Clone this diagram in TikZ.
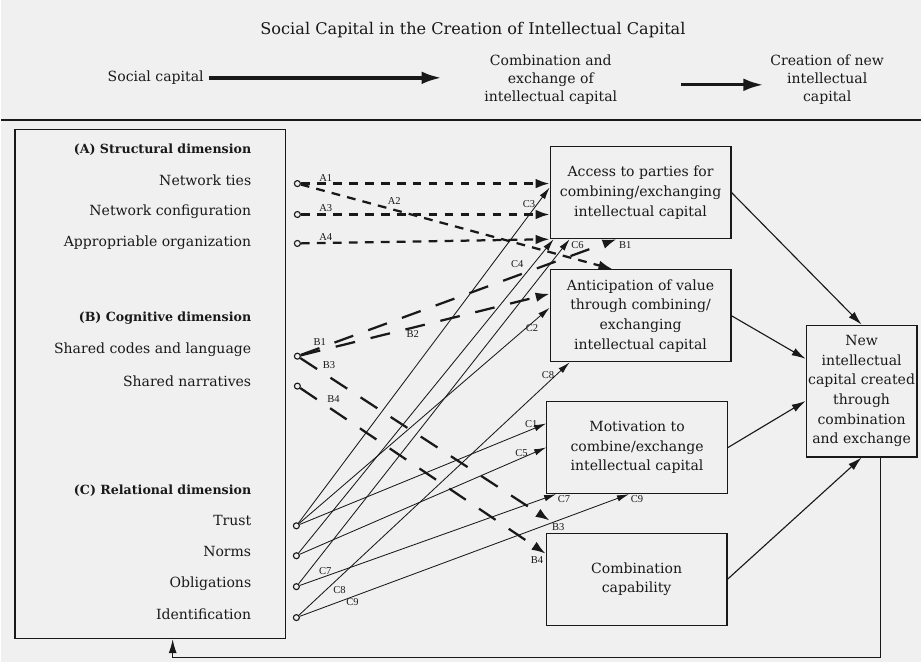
\documentclass[tikz,border=0pt]{standalone}
\usepackage{fontspec}
\setmainfont{DejaVu Serif}
\newfontfamily\tagfont{Liberation Serif}
\usetikzlibrary{arrows.meta}

\begin{document}
\begin{tikzpicture}[x=0.025cm,y=-0.025cm,color=black!90,
        every node/.style={font=\fontsize{10}{14}\selectfont},
        box/.style={draw,line width=0.8pt,align=center,inner sep=1pt,minimum width=4.53cm,minimum height=2.31cm},
        dim/.style={anchor=east,inner sep=0pt},
        head/.style={dim,font=\fontsize{9}{14}\selectfont\bfseries},
        src/.style={circle,draw,line width=0.8pt,inner sep=0pt,minimum size=0.15cm},
        tag/.style={font=\tagfont\fontsize{7.5}{8}\selectfont,inner sep=1pt},
        bigarrow/.style={-{Latex[length=5mm,width=3.2mm]},line width=2.4pt},
        aline/.style={-{Latex[length=3.5mm,width=2.4mm]},line width=1.6pt,dash pattern=on 0.22cm off 0.18cm},
        bline/.style={-{Latex[length=3.5mm,width=2.4mm]},line width=1.6pt,dash pattern=on 0.5cm off 0.4cm},
        sline/.style={-{Latex[length=3mm,width=1.6mm]},line width=0.6pt},
        link/.style={-{Latex[length=3.5mm,width=2mm]},line width=0.8pt}]
        \fill[black!6] (0,0) rectangle (922,664);
        \node [font=\fontsize{11.5}{14}\selectfont] (title) at (473,30) {Social Capital in the Creation of Intellectual Capital};
        \node [anchor=east] (social) at (208,78) {Social capital};
        \node [align=center,font=\fontsize{10}{13}\selectfont] (combex) at (551,80) {Combination and\\exchange of\\intellectual capital};
        \node [align=center,font=\fontsize{10}{13}\selectfont] (creation) at (828,80) {Creation of new\\intellectual\\capital};
        \draw[bigarrow,shorten >=0.95cm] (social.east) -- (combex.west |- social.east);
        \draw[bigarrow,shorten <=1.475cm,shorten >=0.05cm] ([yshift=-0.125cm]combex.east) -- ([yshift=-0.125cm]creation.west);
        \draw[line width=1.5pt] (0,120) -- (922,120);
        \node [draw,line width=0.8pt,minimum width=6.775cm,minimum height=12.75cm] (dimbox) at (149.5,385) {};
        \node [head] (headA) at (251,150) {(A) Structural dimension};
        \node [dim] (ties) at (251,181) {Network ties};
        \node [dim] (config) at (251,212) {Network configuration};
        \node [dim] (approp) at (251,243) {Appropriable organization};
        \node [head] (headB) at (251,319) {(B) Cognitive dimension};
        \node [dim] (codes) at (251,351) {Shared codes and language};
        \node [dim] (narr) at (251,382) {Shared narratives};
        \node [head] (headC) at (251,492) {(C) Relational dimension};
        \node [dim] (trust) at (251,522) {Trust};
        \node [dim] (norms) at (251,553) {Norms};
        \node [dim] (oblig) at (251,585) {Obligations};
        \node [dim] (ident) at (251,616) {Identification};
        \node [src] (o-ties) at (297,184) {};
        \node [src] (o-config) at (297,215) {};
        \node [src] (o-approp) at (297,244) {};
        \node [src] (o-codes) at (297,357) {};
        \node [src] (o-narr) at (297,387) {};
        \node [src] (o-trust) at (296,527) {};
        \node [src] (o-norms) at (296,557) {};
        \node [src] (o-oblig) at (296,588) {};
        \node [src] (o-ident) at (296,619) {};
        \node [box] (access) at (641,193) {Access to parties for\\combining/exchanging\\intellectual capital};
        \node [box] (antic) at (641,316.5) {Anticipation of value\\through combining/\\exchanging\\intellectual capital};
        \node [box] (motiv) at (637.5,448.5) {Motivation to\\combine/exchange\\intellectual capital};
        \node [box] (combo) at (637,580.5) {Combination\\capability};
        \node [draw,line width=0.8pt,align=center,inner sep=1pt,minimum width=2.775cm,minimum height=3.3cm] (newic) at (862.5,392) {New\\intellectual\\capital created\\through\\combination\\and exchange};
        \draw[aline] (o-ties) -- node[tag,pos=.1,above]{A1} (access.west |- o-ties);
        \draw[aline] (o-ties) -- node[tag,pos=.3,above=2pt]{A2} ([xshift=1.575cm]antic.north west);
        \draw[aline] (o-config) -- node[tag,pos=.1,above]{A3} (access.west |- o-config);
        \draw[aline] (o-approp) -- node[tag,pos=.1,above]{A4} (access.south west);
        \draw[bline] (o-codes) -- node[tag,pos=.06,above]{B1} node[tag,pos=1,below right]{B1} ([xshift=1.675cm]access.south west);
        \draw[bline] (o-codes) -- node[tag,pos=.45,below]{B2} ([yshift=0.55cm]antic.west);
        \draw[bline] (o-codes) -- node[tag,pos=.08,above right]{B3} node[tag,pos=1,below right]{B3} ([xshift=0.1cm,yshift=0.3cm]combo.north west);
        \draw[bline] (o-narr) -- node[tag,pos=.1,above right]{B4} node[tag,pos=1,below left]{B4} ([yshift=0.64cm]combo.west);
        \draw[sline] (o-trust) -- node[tag,pos=.95,left]{C3} ([yshift=0.125cm]access.west);
        \draw[sline] (o-trust) -- node[tag,pos=.93,below]{C2} ([yshift=0.2cm]antic.west);
        \draw[sline] (o-trust) -- node[tag,pos=.94,above]{C1} ([yshift=0.6cm]motiv.west);
        \draw[sline] (o-norms) -- node[tag,pos=.92,left=2mm]{C4} ([xshift=0.1cm]access.south west);
        \draw[sline] (o-norms) -- node[tag,pos=.9,above]{C5} (motiv.west);
        \draw[sline] (o-oblig) -- node[tag,pos=1,below right]{C6} ([xshift=0.5cm]access.south west);
        \draw[sline] (o-oblig) -- node[tag,pos=.1,above]{C7} node[tag,pos=1,below right]{C7} ([xshift=0.25cm]motiv.south west);
        \draw[sline] (o-ident) -- node[tag,pos=.12,below right]{C8} node[tag,pos=.95,left]{C8} ([xshift=0.5cm]antic.south west);
        \draw[sline] (o-ident) -- node[tag,pos=.16,below]{C9} node[tag,pos=1,below right]{C9} ([xshift=2.075cm]motiv.south west);
        \draw[link] (access.east) -- (newic.north);
        \draw[link] (antic.east) -- (newic.150);
        \draw[link] (motiv.east) -- (newic.190);
        \draw[link] (combo.east) -- (newic.south);
        \draw[link] (newic.286) -- ++(0,200) -| ([xshift=0.5625cm]dimbox.south);
\end{tikzpicture}
\end{document}
